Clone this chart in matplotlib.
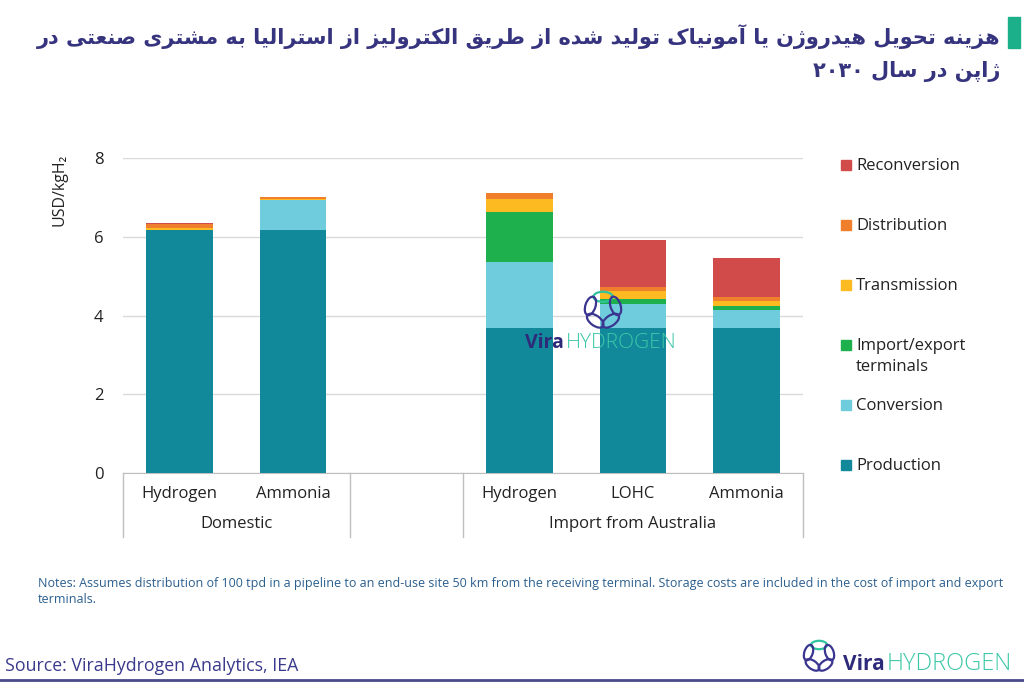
import numpy as np
import matplotlib
matplotlib.use("Agg")
import matplotlib.pyplot as plt
from matplotlib.patches import Rectangle, Ellipse
from matplotlib import transforms

# data (USD/kgH2)
bars = ["Hydrogen", "Ammonia", "Hydrogen", "LOHC", "Ammonia"]
groups = ["Domestic", "Import from Australia"]
production = [6.17, 6.17, 3.69, 3.69, 3.69]
conversion = [0.00, 0.76, 1.67, 0.59, 0.45]
import_export = [0.00, 0.00, 1.26, 0.14, 0.11]
transmission = [0.05, 0.02, 0.33, 0.20, 0.12]
distribution = [0.11, 0.07, 0.15, 0.10, 0.11]
reconversion = [0.03, 0.00, 0.00, 1.21, 0.97]

series = ["Production", "Conversion", "Import/export\nterminals",
          "Transmission", "Distribution", "Reconversion"]
colors = ["#12899B", "#6FCCDD", "#1DB04C", "#FDBA21", "#F07F2D", "#D24B4B"]

title_lines = ["هزینه تحویل هیدروژن یا آمونیاک تولید شده از طریق الکترولیز از استرالیا به مشتری صنعتی در",
               "ژاپن در سال ۲۰۳۰"]
notes = ("Notes: Assumes distribution of 100 tpd in a pipeline to an end-use site 50 km from the receiving "
         "terminal. Storage costs are included in the cost of import and export\nterminals.")
source = "Source: ViraHydrogen Analytics, IEA"

# --- minimal arabic shaping (matplotlib has no bidi / shaping) ---
FORMS = {  # isolated, final, initial, medial
    "ا": ("\uFE8D", "\uFE8E"), "آ": ("\uFE81", "\uFE82"),
    "د": ("\uFEA9", "\uFEAA"), "ر": ("\uFEAD", "\uFEAE"),
    "ز": ("\uFEAF", "\uFEB0"), "ژ": ("\uFB8A", "\uFB8B"),
    "و": ("\uFEED", "\uFEEE"),
    "ب": ("\uFE8F", "\uFE90", "\uFE91", "\uFE92"),
    "ت": ("\uFE95", "\uFE96", "\uFE97", "\uFE98"),
    "ح": ("\uFEA1", "\uFEA2", "\uFEA3", "\uFEA4"),
    "س": ("\uFEB1", "\uFEB2", "\uFEB3", "\uFEB4"),
    "ش": ("\uFEB5", "\uFEB6", "\uFEB7", "\uFEB8"),
    "ص": ("\uFEB9", "\uFEBA", "\uFEBB", "\uFEBC"),
    "ط": ("\uFEC1", "\uFEC2", "\uFEC3", "\uFEC4"),
    "ع": ("\uFEC9", "\uFECA", "\uFECB", "\uFECC"),
    "ق": ("\uFED5", "\uFED6", "\uFED7", "\uFED8"),
    "ک": ("\uFB8E", "\uFB8F", "\uFB90", "\uFB91"),
    "ل": ("\uFEDD", "\uFEDE", "\uFEDF", "\uFEE0"),
    "م": ("\uFEE1", "\uFEE2", "\uFEE3", "\uFEE4"),
    "ن": ("\uFEE5", "\uFEE6", "\uFEE7", "\uFEE8"),
    "ه": ("\uFEE9", "\uFEEA", "\uFEEB", "\uFEEC"),
    "ی": ("\uFBFC", "\uFBFD", "\uFBFE", "\uFBFF"),
    "پ": ("\uFB56", "\uFB57", "\uFB58", "\uFB59"),
}


def shape_word(w):
    if not any(c in FORMS for c in w):
        return w
    out = []
    for i, c in enumerate(w):
        f = FORMS.get(c)
        if f is None:
            out.append(c)
            continue
        prev = i > 0 and len(FORMS.get(w[i - 1], ())) == 4
        nxt = len(f) == 4 and i + 1 < len(w) and w[i + 1] in FORMS
        if prev and nxt:
            out.append(f[3])
        elif prev:
            out.append(f[1])
        elif nxt:
            out.append(f[2])
        else:
            out.append(f[0])
    return "".join(out[::-1])


def rtl(line):
    return " ".join(shape_word(w) for w in line.split()[::-1])


plt.rcParams["font.family"] = ["Open Sans", "DejaVu Sans"]

fig = plt.figure(figsize=(10.24, 6.83), dpi=100)
ax = fig.add_axes([123 / 1024, 1 - 473 / 683, 680 / 1024, 315 / 683])

x = np.array([0, 1, 3, 4, 5])
data = [production, conversion, import_export, transmission, distribution, reconversion]
bottom = np.zeros(len(x))
for vals, c in zip(data, colors):
    ax.bar(x, vals, 0.59, bottom=bottom, color=c, zorder=3)
    bottom += np.array(vals)

ax.set_xlim(-0.5, 5.5)
ax.set_ylim(0, 8)
ax.set_yticks([0, 2, 4, 6, 8])
ax.tick_params(axis="y", length=0, labelsize=12, pad=14, colors="#222222")
ax.set_xticks([])
ax.grid(axis="y", color="#D9D9D9", lw=1, zorder=0)
for s in ["top", "right", "left"]:
    ax.spines[s].set_visible(False)
ax.spines["bottom"].set_color("#BFBFBF")
ax.set_ylabel("USD/kgH₂", fontsize=11.5, color="#222222")
ax.yaxis.set_label_coords(-0.081, 0.9)

# category axis (two levels)
tr = transforms.blended_transform_factory(ax.transData, ax.transAxes)
for xi, lab in zip(x, bars):
    ax.text(xi, -0.066, lab, transform=tr, ha="center", va="center", fontsize=12, color="#222222")
ax.text(0.5, -0.162, groups[0], transform=tr, ha="center", va="center", fontsize=12, color="#222222")
ax.text(4, -0.162, groups[1], transform=tr, ha="center", va="center", fontsize=12, color="#222222")
for xs in [-0.5, 1.5, 2.5, 5.5]:
    ax.plot([xs, xs], [0, -0.203], transform=tr, color="#BFBFBF", lw=1, clip_on=False)

# legend
for i, (name, c) in enumerate(zip(series[::-1], colors[::-1])):
    yc = 165 + 60 * i
    fig.patches.append(Rectangle((841 / 1024, 1 - (yc + 5) / 683), 10 / 1024, 10 / 683,
                                 transform=fig.transFigure, color=c))
    fig.text(856 / 1024, 1 - (yc - 7) / 683, name, fontsize=12, va="top", ha="left",
             color="#222222", linespacing=1.45)

# title
title_color = "#37347F"
fig.text(1000 / 1024, 1 - 37 / 683, rtl(title_lines[0]), ha="right", va="center",
         fontsize=15, fontweight="bold", color=title_color, family=["DejaVu Sans"])
fig.text(1000 / 1024, 1 - 72 / 683, rtl(title_lines[1]), ha="right", va="center",
         fontsize=15, fontweight="bold", color=title_color, family=["DejaVu Sans"])
fig.patches.append(Rectangle((1008 / 1024, 1 - 48 / 683), 12 / 1024, 31 / 683,
                             transform=fig.transFigure, color="#1BB08A"))

# notes and source
fig.text(38 / 1024, 1 - 577 / 683, notes, fontsize=9, va="top", ha="left",
         color="#2B5F8E", linespacing=1.3)
fig.text(5 / 1024, 1 - 666 / 683, source, fontsize=12.8, va="center", ha="left", color="#3A3A8C")
fig.add_artist(plt.Line2D([0, 1], [1 - 680 / 683] * 2, transform=fig.transFigure,
                          color="#4A4A8A", lw=2))


def logo(cx, cy, size, text_x, text_y, fs, fs2):
    lax = fig.add_axes([(cx - size) / 1024, 1 - (cy + size) / 683, 2 * size / 1024, 2 * size / 683])
    lax.set_xlim(-1, 1)
    lax.set_ylim(-1, 1)
    lax.axis("off")
    for k in range(5):
        a = np.pi / 2 + k * 2 * np.pi / 5
        col = "#2FC3A0" if k == 0 else "#3A3590"
        lax.add_patch(Ellipse((0.55 * np.cos(a), 0.55 * np.sin(a)), 0.8, 0.42,
                              angle=np.degrees(a) + 90, fill=False, ec=col, lw=1.6))
    t = fig.text(text_x / 1024, 1 - text_y / 683, "Vira", fontsize=fs, fontweight="bold",
                 color="#2E2A7A", va="center", ha="left")
    fig.canvas.draw()
    bb = t.get_window_extent()
    fig.text(bb.x1 / 1024 + 0.002, 1 - text_y / 683, "HYDROGEN", fontsize=fs2,
             color="#3CC8A8", va="center", ha="left", fontweight="light")


logo(603, 310, 24, 525, 343, 14, 15)
logo(819, 656, 20, 843, 664, 15, 17)

fig.savefig("out.png", dpi=100)
